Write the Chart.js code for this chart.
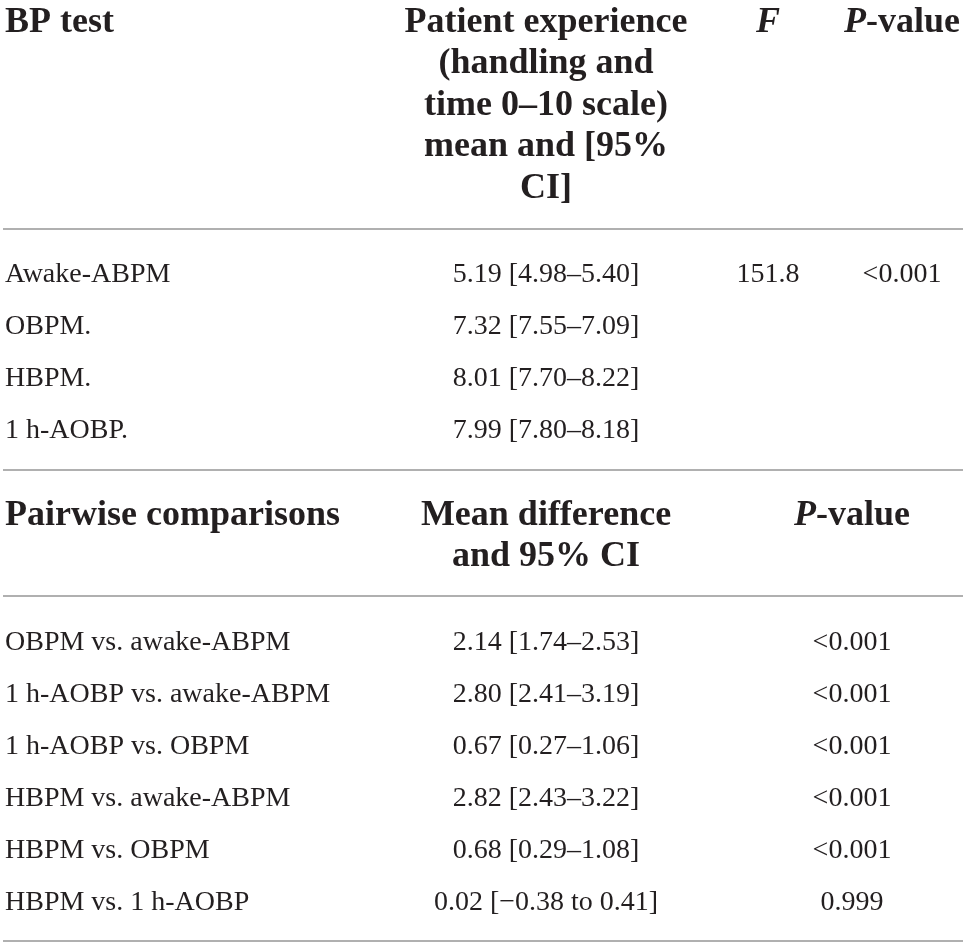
<!DOCTYPE html>
<html>
<head>
<meta charset="utf-8">
<script src="https://cdn.jsdelivr.net/npm/chart.js@4.4.1/dist/chart.umd.min.js"></script>
<style>
  html, body { margin: 0; padding: 0; background: #fff; }
  #tableChart { display: block; }
</style>
</head>
<body>
<canvas id="tableChart" width="968" height="947"></canvas>
<script>
  // table values
  var bpTests = ['Awake-ABPM', 'OBPM.', 'HBPM.', '1 h-AOBP.'];
  var expMean = [5.19, 7.32, 8.01, 7.99];
  var expLow = [4.98, 7.55, 7.70, 7.80];
  var expHigh = [5.40, 7.09, 8.22, 8.18];
  var fValues = [151.8, null, null, null];
  var anovaP = ['<0.001', '', '', ''];

  var comparisons = ['OBPM vs. awake-ABPM', '1 h-AOBP vs. awake-ABPM', '1 h-AOBP vs. OBPM',
    'HBPM vs. awake-ABPM', 'HBPM vs. OBPM', 'HBPM vs. 1 h-AOBP'];
  var diffMean = [2.14, 2.80, 0.67, 2.82, 0.68, 0.02];
  var diffLow = [1.74, 2.41, 0.27, 2.43, 0.29, -0.38];
  var diffHigh = [2.53, 3.19, 1.06, 3.22, 1.08, 0.41];
  var pairP = ['<0.001', '<0.001', '<0.001', '<0.001', '<0.001', '0.999'];

  var headTop = ['BP test', 'Patient experience', '(handling and', 'time 0\u201310 scale)', 'mean and [95%', 'CI]'];
  var headBottom = ['Pairwise comparisons', 'Mean difference', 'and 95% CI'];

  // layout (in scale units, which equal canvas pixels here)
  var colLabel = 5, colMid = 546, colF = 768, colP = 902, colP2 = 852;
  var headLines = [32, 73, 115, 156, 198];
  var topRows = [282, 334, 386, 438];
  var headLines2 = [525, 566];
  var bottomRows = [650, 702, 754, 806, 858, 910];
  var rules = [229, 470, 596, 941];

  var ink = '#231f20';
  var bodyFont = '28px "Liberation Serif"';
  var headFont = 'bold 36px "Liberation Serif"';
  var headItalic = 'italic bold 36px "Liberation Serif"';

  function num(v) {
    return (v < 0 ? '\u2212' : '') + Math.abs(v).toFixed(2);
  }
  function ci(m, lo, hi) {
    if (lo < 0) return num(m) + ' [' + num(lo) + ' to ' + num(hi) + ']';
    return num(m) + ' [' + num(lo) + '\u2013' + num(hi) + ']';
  }

  // one point per cell so the text sits on the chart's own scales
  var cellPoints = [];
  bpTests.forEach(function (t, i) {
    cellPoints.push({ x: colLabel, y: topRows[i], text: t, align: 'left' });
    cellPoints.push({ x: colMid, y: topRows[i], text: ci(expMean[i], expLow[i], expHigh[i]), align: 'center' });
    if (fValues[i] !== null) cellPoints.push({ x: colF, y: topRows[i], text: fValues[i].toFixed(1), align: 'center' });
    if (anovaP[i]) cellPoints.push({ x: colP, y: topRows[i], text: anovaP[i], align: 'center' });
  });
  comparisons.forEach(function (t, i) {
    cellPoints.push({ x: colLabel, y: bottomRows[i], text: t, align: 'left' });
    cellPoints.push({ x: colMid, y: bottomRows[i], text: ci(diffMean[i], diffLow[i], diffHigh[i]), align: 'center' });
    cellPoints.push({ x: colP2, y: bottomRows[i], text: pairP[i], align: 'center' });
  });

  function drawRuns(ctx, runs, x, y, align) {
    var total = 0;
    runs.forEach(function (r) { ctx.font = r.font; r.w = ctx.measureText(r.t).width; total += r.w; });
    var cx = align === 'center' ? x - total / 2 : x;
    ctx.textAlign = 'left';
    runs.forEach(function (r) { ctx.font = r.font; ctx.fillText(r.t, cx, y); cx += r.w; });
  }

  var tablePlugin = {
    id: 'tableText',
    afterDatasetsDraw: function (chart) {
      var ctx = chart.ctx, xs = chart.scales.x, ys = chart.scales.y;
      ctx.save();
      ctx.fillStyle = ink;
      ctx.textBaseline = 'alphabetic';

      // rules
      ctx.strokeStyle = '#b0b0b0';
      ctx.lineWidth = 2;
      rules.forEach(function (r) {
        var py = ys.getPixelForValue(r);
        ctx.beginPath();
        ctx.moveTo(xs.getPixelForValue(3), py);
        ctx.lineTo(xs.getPixelForValue(963), py);
        ctx.stroke();
      });

      // top header
      drawRuns(ctx, [{ t: headTop[0], font: headFont }], xs.getPixelForValue(colLabel), ys.getPixelForValue(headLines[0]), 'left');
      for (var i = 1; i < headTop.length; i++) {
        drawRuns(ctx, [{ t: headTop[i], font: headFont }], xs.getPixelForValue(colMid), ys.getPixelForValue(headLines[i - 1]), 'center');
      }
      drawRuns(ctx, [{ t: 'F', font: headItalic }], xs.getPixelForValue(colF), ys.getPixelForValue(headLines[0]), 'center');
      drawRuns(ctx, [{ t: 'P', font: headItalic }, { t: '-value', font: headFont }], xs.getPixelForValue(colP), ys.getPixelForValue(headLines[0]), 'center');

      // bottom header
      drawRuns(ctx, [{ t: headBottom[0], font: headFont }], xs.getPixelForValue(colLabel), ys.getPixelForValue(headLines2[0]), 'left');
      drawRuns(ctx, [{ t: headBottom[1], font: headFont }], xs.getPixelForValue(colMid), ys.getPixelForValue(headLines2[0]), 'center');
      drawRuns(ctx, [{ t: headBottom[2], font: headFont }], xs.getPixelForValue(colMid), ys.getPixelForValue(headLines2[1]), 'center');
      drawRuns(ctx, [{ t: 'P', font: headItalic }, { t: '-value', font: headFont }], xs.getPixelForValue(colP2), ys.getPixelForValue(headLines2[0]), 'center');

      // body cells from the dataset points
      var meta = chart.getDatasetMeta(0);
      meta.data.forEach(function (pt, k) {
        var c = cellPoints[k];
        drawRuns(ctx, [{ t: c.text, font: bodyFont }], pt.x, pt.y, c.align);
      });
      ctx.restore();
    }
  };

  var ctx = document.getElementById('tableChart').getContext('2d');
  var tableChart = new Chart(ctx, {
    type: 'scatter',
    data: {
      datasets: [{
        label: 'cells',
        data: cellPoints,
        pointRadius: 0,
        pointHoverRadius: 0
      }]
    },
    options: {
      responsive: false,
      animation: false,
      devicePixelRatio: 1,
      layout: { padding: 0 },
      plugins: { legend: { display: false }, tooltip: { enabled: false } },
      scales: {
        x: { type: 'linear', min: 0, max: 968, display: false },
        y: { type: 'linear', min: 0, max: 947, reverse: true, display: false }
      }
    },
    plugins: [tablePlugin]
  });
</script>
</body>
</html>
